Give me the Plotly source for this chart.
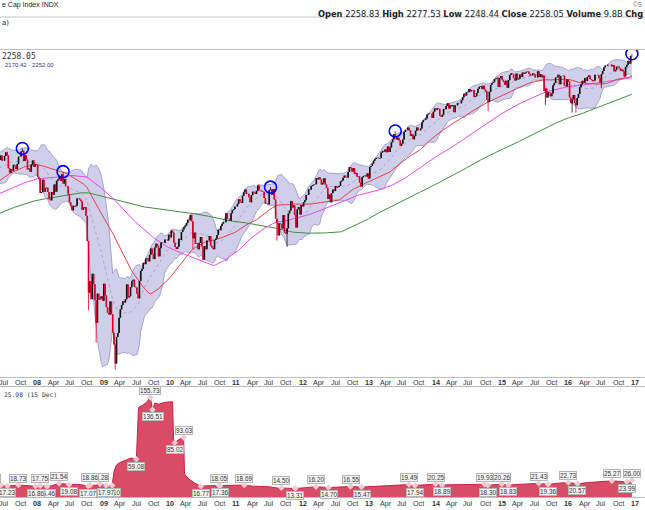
import pandas as pd
import numpy as np
import plotly.graph_objects as go

# weekly closes (Friday), Jul 2003 .. 16 Dec 2016
close_2003 = [985, 998, 994, 998, 980, 977, 990, 993, 1008, 1021, 1018, 1036, 996,
              1029, 1038, 1039, 1028, 1050, 1059, 1050, 1035, 1058, 1061, 1075, 1089, 1095]
close_2004 = [1108, 1122, 1139, 1141, 1131, 1142, 1145, 1144, 1145, 1156, 1120, 1110, 1109,
              1141, 1139, 1134, 1140, 1107, 1098, 1095, 1094, 1121, 1123, 1136, 1135, 1134,
              1125, 1112, 1101, 1086, 1102, 1064, 1064, 1099, 1107, 1113, 1123, 1128, 1110,
              1131, 1122, 1109, 1095, 1130, 1167, 1184, 1171, 1182, 1191, 1189, 1195, 1210, 1212]
close_2005 = [1186, 1184, 1168, 1171, 1203, 1206, 1201, 1211, 1222, 1200, 1190, 1172,
              1173, 1181, 1142, 1152, 1157, 1172, 1154, 1190, 1198, 1197, 1201, 1217, 1191,
              1195, 1212, 1228, 1227, 1234, 1226, 1237, 1220, 1205, 1218, 1241, 1237, 1215, 1229,
              1196, 1187, 1179, 1199, 1220, 1234, 1248, 1268, 1265, 1259, 1267, 1259, 1248]
close_2006 = [1285, 1287, 1261, 1284, 1264, 1267, 1287, 1289, 1287, 1281, 1307, 1302, 1295,
              1295, 1289, 1311, 1310, 1325, 1291, 1267, 1280, 1288, 1252, 1251, 1245, 1270,
              1265, 1237, 1240, 1278, 1280, 1266, 1302, 1296, 1311, 1299, 1321, 1314, 1336,
              1350, 1366, 1368, 1377, 1364, 1380, 1401, 1400, 1397, 1409, 1427, 1410, 1418]
close_2007 = [1409, 1430, 1431, 1423, 1449, 1438, 1456, 1451, 1387, 1402, 1387, 1437, 1421,
              1444, 1453, 1484, 1495, 1505, 1505, 1522, 1516, 1537, 1507, 1533, 1503, 1503,
              1531, 1553, 1534, 1459, 1434, 1454, 1445, 1479, 1474, 1454, 1484, 1526, 1527,
              1557, 1562, 1501, 1535, 1509, 1453, 1458, 1440, 1481, 1504, 1468, 1484, 1478]
close_2008 = [1411, 1401, 1325, 1330, 1396, 1332, 1350, 1353, 1331, 1294, 1288, 1330, 1316,
              1370, 1332, 1390, 1398, 1414, 1388, 1426, 1375, 1400, 1361, 1361, 1318, 1278,
              1262, 1239, 1261, 1257, 1261, 1297, 1298, 1292, 1283, 1242, 1252, 1255, 1213,
              1099, 899, 940, 877, 968, 930, 873, 800, 896, 876, 879, 887, 872]
close_2009 = [931, 890, 850, 832, 826, 869, 827, 770, 735, 683, 757, 769, 816,
              843, 857, 870, 866, 877, 929, 883, 887, 919, 940, 946, 921, 918,
              896, 880, 941, 979, 987, 1010, 1005, 1027, 1029, 1016, 1042, 1068, 1044,
              1025, 1072, 1088, 1080, 1036, 1069, 1093, 1091, 1091, 1106, 1106, 1102, 1127]
close_2010 = [1115, 1145, 1136, 1092, 1074, 1066, 1075, 1109, 1104, 1139, 1150, 1160, 1167,
              1179, 1194, 1192, 1217, 1187, 1111, 1136, 1087, 1089, 1065, 1092, 1117, 1076,
              1022, 1078, 1065, 1102, 1102, 1121, 1079, 1071, 1065, 1104, 1110, 1126, 1149,
              1147, 1166, 1176, 1183, 1183, 1225, 1200, 1199, 1190, 1225, 1240, 1244, 1257, 1258]
close_2011 = [1271, 1293, 1283, 1276, 1311, 1329, 1343, 1320, 1321, 1304, 1279, 1314,
              1332, 1329, 1320, 1337, 1364, 1340, 1338, 1333, 1331, 1300, 1271, 1272, 1268,
              1340, 1344, 1316, 1345, 1292, 1199, 1179, 1124, 1177, 1174, 1154, 1216, 1136, 1131,
              1155, 1224, 1238, 1285, 1253, 1263, 1216, 1159, 1244, 1255, 1219, 1265, 1258]
close_2012 = [1278, 1289, 1315, 1316, 1345, 1343, 1361, 1366, 1370, 1371, 1404, 1397, 1408,
              1398, 1370, 1379, 1403, 1369, 1353, 1295, 1318, 1278, 1325, 1343, 1335, 1362,
              1354, 1357, 1363, 1386, 1391, 1406, 1418, 1411, 1407, 1438, 1466, 1460, 1441,
              1460, 1428, 1433, 1412, 1414, 1380, 1359, 1409, 1416, 1418, 1413, 1430, 1402]
close_2013 = [1466, 1472, 1486, 1503, 1513, 1518, 1520, 1516, 1518, 1551, 1561, 1556, 1569,
              1553, 1588, 1555, 1582, 1614, 1633, 1667, 1650, 1631, 1643, 1626, 1593, 1606,
              1632, 1680, 1692, 1691, 1709, 1691, 1655, 1664, 1633, 1655, 1688, 1710, 1692,
              1691, 1703, 1745, 1759, 1762, 1771, 1798, 1804, 1806, 1805, 1775, 1818, 1841]
close_2014 = [1831, 1842, 1838, 1790, 1783, 1797, 1838, 1836, 1859, 1878, 1841, 1866, 1857,
              1865, 1815, 1864, 1863, 1881, 1878, 1878, 1900, 1924, 1950, 1937, 1963, 1961,
              1985, 1968, 1978, 1978, 1925, 1931, 1955, 1988, 2003, 2008, 1985, 2011, 1982,
              1968, 1906, 1887, 1965, 2018, 2032, 2039, 2063, 2068, 2075, 2002, 2071, 2089]
close_2015 = [2058, 2044, 2019, 2051, 1995, 2055, 2097, 2110, 2105, 2071, 2053, 2108, 2061,
              2067, 2102, 2081, 2117, 2108, 2116, 2123, 2126, 2107, 2092, 2094, 2110, 2102,
              2077, 2077, 2127, 2080, 2104, 2078, 2092, 1971, 1989, 1921, 1961, 1958, 1931,
              1951, 2015, 2033, 2075, 2079, 2099, 2023, 2089, 2090, 2092, 2012, 2006, 2061]
close_2016 = [2044, 1922, 1880, 1907, 1940, 1880, 1865, 1918, 1948, 2000, 2022, 2050, 2035,
              2073, 2048, 2081, 2092, 2065, 2058, 2047, 2053, 2099, 2099, 2096, 2071, 2037,
              2103, 2130, 2162, 2175, 2174, 2183, 2184, 2184, 2169, 2180, 2128, 2139, 2165, 2168,
              2153, 2133, 2141, 2126, 2085, 2164, 2182, 2214, 2192, 2259.53, 2258.05]

# intraweek extremes that stick out of the bodies
wick_low_dates = ["2008-10-10", "2008-11-21", "2009-03-06", "2010-05-07", "2011-08-12",
                  "2011-10-07", "2014-10-17", "2015-08-28", "2016-01-22", "2016-02-12",
                  "2016-07-01", "2016-12-16"]
wick_lows = [839.8, 741.0, 666.8, 1065.8, 1101.5, 1074.8, 1820.7, 1867.0, 1812.3, 1810.1,
             1991.7, 2248.44]
wick_high_dates = ["2007-07-20", "2007-10-12", "2008-05-23", "2011-05-06", "2011-07-08",
                   "2013-05-24", "2016-12-16"]
wick_highs = [1555.9, 1576.1, 1440.2, 1370.6, 1356.5, 1687.2, 2277.53]

# blue circled highs
circle_dates = ["2007-10-12", "2008-05-23", "2011-07-08", "2013-05-24", "2016-12-16"]
circle_values = [1576, 1440, 1356, 1687, 2277]

# P/E panel
pe_dates = ["2007-06-01", "2007-06-15", "2007-07-22", "2007-08-15", "2007-09-20", "2007-10-20",
            "2007-11-20", "2007-12-24", "2008-01-18", "2008-02-25", "2008-03-20", "2008-04-10",
            "2008-05-01", "2008-06-01", "2008-06-25", "2008-08-01", "2008-09-01", "2008-10-08",
            "2008-10-20", "2008-11-20", "2008-12-12", "2009-01-15", "2009-02-17", "2009-02-27",
            "2009-03-13", "2009-04-01", "2009-05-01", "2009-06-01", "2009-06-30", "2009-07-12",
            "2009-08-01", "2009-08-25", "2009-09-15", "2009-09-27", "2009-10-10", "2009-11-01",
            "2009-12-01", "2010-01-15", "2010-01-22", "2010-01-27", "2010-02-20", "2010-03-17",
            "2010-03-22", "2010-04-15", "2010-05-15", "2010-06-20", "2010-07-20", "2010-08-20",
            "2010-09-27", "2010-10-04", "2010-11-15", "2010-12-20", "2011-02-14", "2011-04-01",
            "2011-05-15", "2011-07-01", "2011-08-15", "2011-09-06", "2011-10-01", "2011-11-21",
            "2012-01-15", "2012-03-14", "2012-05-22", "2012-07-15", "2012-09-20", "2012-11-20",
            "2013-01-20", "2013-03-20", "2013-05-20", "2013-08-08", "2013-09-09", "2013-11-15",
            "2014-01-01", "2014-02-06", "2014-04-15", "2014-07-01", "2014-09-28", "2014-10-15",
            "2014-12-31", "2015-02-06", "2015-04-15", "2015-06-10", "2015-07-23", "2015-09-12",
            "2015-11-01", "2016-01-01", "2016-02-20", "2016-04-15", "2016-06-20", "2016-08-28",
            "2016-10-01", "2016-11-18", "2016-12-16"]
pe_values = [18.3, 18.35, 17.23, 17.9, 18.73, 18.2,
             17.6, 16.86, 17.75, 16.46, 17.5, 19.5,
             21.54, 20.5, 19.08, 19.8, 19.2, 17.07,
             18.86, 18.3, 20.28, 17.97, 18.1, 40,
             50, 54, 57, 61, 59.08, 140,
             143, 148, 155.73, 136.51, 147, 145,
             148, 149, 80, 85.02, 90, 93.03,
             36, 28, 22, 16.77, 17.5, 17.6,
             18.05, 17.36, 17.8, 18.1, 18.69, 17.0,
             16.5, 16.0, 14.0, 14.5, 13.8, 13.31,
             14.5, 16.2, 14.7, 15.6, 16.55, 15.47,
             16.6, 17.6, 18.5, 19.49, 17.94, 19.3,
             20.25, 18.89, 19.2, 19.6, 19.93, 18.3,
             20.26, 18.83, 20.2, 20.8, 21.43, 19.36,
             21.5, 22.73, 20.57, 22.5, 23.8, 25.27,
             24.6, 23.99, 26.0]
# labelled turning points (1 = peak, -1 = trough); earlier ones sit on top
pe_label_dates = ["2007-06-15", "2007-07-22", "2007-09-20", "2007-12-24", "2008-01-18",
                  "2008-02-25", "2008-05-01", "2008-06-25", "2008-10-08", "2008-10-20",
                  "2008-12-12", "2009-01-15", "2009-02-17", "2009-06-30", "2009-09-15",
                  "2009-09-27", "2010-01-27", "2010-03-17", "2010-06-20", "2010-09-27",
                  "2010-10-04", "2011-02-14", "2011-09-06", "2011-11-21", "2012-03-14",
                  "2012-05-22", "2012-09-20", "2012-11-20", "2013-08-08", "2013-09-09",
                  "2014-01-01", "2014-02-06", "2014-09-28", "2014-10-15", "2014-12-31",
                  "2015-02-06", "2015-07-23", "2015-09-12", "2016-01-01", "2016-02-20",
                  "2016-08-28", "2016-11-18", "2016-12-16"]
pe_label_values = [18.35, 17.23, 18.73, 16.86, 17.75, 16.46, 21.54, 19.08, 17.07, 18.86,
                   20.28, 17.97, 18.10, 59.08, 155.73, 136.51, 85.02, 93.03, 16.77, 18.05,
                   17.36, 18.69, 14.50, 13.31, 16.20, 14.70, 16.55, 15.47, 19.49, 17.94,
                   20.25, 18.89, 19.93, 18.30, 20.26, 18.83, 21.43, 19.36, 22.73, 20.57,
                   25.27, 23.99, 26.00]
pe_label_kind = [1, -1, 1, -1, 1, -1, 1, -1, -1, 1, 1, -1, -1, -1, 1, -1, -1, 1, -1, 1,
                 -1, 1, 1, -1, 1, -1, 1, -1, 1, -1, 1, -1, 1, -1, 1, -1, 1, -1, 1, -1,
                 1, -1, 1]

month_ticks = ["2007-07-01", "2007-10-01"] + [
    f"{y}-{m:02d}-01" for y in range(2008, 2018) for m in (1, 4, 7, 10)]
month_ticks = [t for t in month_ticks if t <= "2017-01-01"]
tick_text = []
for t in month_ticks:
    y, m = int(t[:4]), int(t[5:7])
    tick_text.append(f"<b>{y % 100:02d}</b>" if m == 1 else {4: "Apr", 7: "Jul", 10: "Oct"}[m])

closes = (close_2003 + close_2004 + close_2005 + close_2006 + close_2007 + close_2008
          + close_2009 + close_2010 + close_2011 + close_2012 + close_2013 + close_2014
          + close_2015 + close_2016)
dates = pd.date_range(end="2016-12-16", periods=len(closes), freq="W-FRI")
df = pd.DataFrame({"close": closes}, index=dates)
df["open"] = df["close"].shift(1).fillna(df["close"])
df.loc[pd.Timestamp("2016-12-16"), "open"] = 2258.83
df["high"] = df[["open", "close"]].max(axis=1)
df["low"] = df[["open", "close"]].min(axis=1)
for d, val in zip(wick_low_dates, wick_lows):
    df.loc[pd.Timestamp(d), "low"] = val
for d, val in zip(wick_high_dates, wick_highs):
    df.loc[pd.Timestamp(d), "high"] = val

df["mid"] = df["close"].rolling(20).mean()
sd = df["close"].rolling(20).std(ddof=0)
df["upper"] = df["mid"] + 2 * sd
df["lower"] = df["mid"] - 2 * sd
df["ma50"] = df["close"].rolling(50).mean()
df["ma100"] = df["close"].rolling(100).mean()
df["ma200"] = df["close"].rolling(200).mean()
v = df[df.index >= "2006-12-01"]

H = 510
def py(pix):
    return 1 - pix / H

def segments(rows, lo_col, hi_col):
    xs, ys = [], []
    for d, r in rows.iterrows():
        xs += [d, d, None]
        ys += [r[lo_col], r[hi_col], None]
    return xs, ys

fig = go.Figure()
fig.add_trace(go.Scatter(x=v.index, y=v["upper"], mode="lines",
                         line=dict(color="#a3a3cf", width=1), hoverinfo="skip"))
fig.add_trace(go.Scatter(x=v.index, y=v["lower"], mode="lines", fill="tonexty",
                         fillcolor="#cfcfe9", line=dict(color="#a3a3cf", width=1), hoverinfo="skip"))
fig.add_trace(go.Scatter(x=v.index, y=v["mid"], mode="lines",
                         line=dict(color="#a6a6c8", width=1, dash="dot")))
fig.add_trace(go.Scatter(x=v.index, y=v["ma200"], mode="lines", line=dict(color="#3f8f3f", width=1)))
fig.add_trace(go.Scatter(x=v.index, y=v["ma100"], mode="lines", line=dict(color="#ee44ee", width=1)))
fig.add_trace(go.Scatter(x=v.index, y=v["ma50"], mode="lines", line=dict(color="#e0404f", width=1)))

# candles: wick + body segments, black up weeks, red down weeks
v2 = v.assign(bot=v[["open", "close"]].min(axis=1), top=v[["open", "close"]].max(axis=1))
for mask, col in ((v2["close"] >= v2["open"], "#111111"), (v2["close"] < v2["open"], "#d4002a")):
    p = v2[mask]
    wx, wy = segments(p, "low", "high")
    fig.add_trace(go.Scatter(x=wx, y=wy, mode="lines", line=dict(color=col, width=0.8)))
    bx, by = segments(p, "bot", "top")
    fig.add_trace(go.Scatter(x=bx, y=by, mode="lines", line=dict(color=col, width=1.6)))

fig.add_trace(go.Scatter(x=pd.to_datetime(circle_dates), y=circle_values, mode="markers",
                         marker=dict(symbol="circle-open", size=12, color="#0000ee",
                                     line=dict(width=1.6, color="#0000ee"))))

# P/E area
fig.add_trace(go.Scatter(x=pd.to_datetime(pe_dates), y=pe_values, mode="lines", fill="tozeroy",
                         fillcolor="#d84c66", line=dict(color="#c8234a", width=1),
                         xaxis="x2", yaxis="y2"))
fig.add_trace(go.Scatter(x=pd.to_datetime(pe_label_dates), y=pe_label_values, mode="markers",
                         marker=dict(symbol="diamond", size=5, color="#f3c9d2"),
                         xaxis="x2", yaxis="y2"))

annotations = []
for d, val, k in reversed(list(zip(pe_label_dates, pe_label_values, pe_label_kind))):
    annotations.append(dict(x=d, y=val, xref="x2", yref="y2", text=f"{val:.2f}", showarrow=False,
                            yshift=7 * k, xshift=-9 if d == "2007-06-15" else 0,
                            bgcolor="#f3f3f3", bordercolor="#b5b5b5", borderwidth=1, borderpad=0,
                            font=dict(size=6.4, color="#333333", family="Liberation Sans")))

# date labels under both panels
for t, s in zip(month_ticks, tick_text):
    for ypix in (382, 503):
        annotations.append(dict(x=t, y=py(ypix), xref="x", yref="paper", text=s, showarrow=False,
                                xanchor="center", yanchor="middle",
                                font=dict(size=7.2, family="Liberation Sans", color="#333333")))

txt = dict(family="DejaVu Sans", color="#222222")
annotations += [
    dict(x=0, y=py(5), xref="paper", yref="paper", xanchor="left", yanchor="middle",
         text="e Cap Index INDX", showarrow=False, font=dict(size=7, family="Liberation Sans", color="#222222")),
    dict(x=1, y=py(5), xref="paper", yref="paper", xanchor="right", yanchor="middle",
         text="©S", showarrow=False, font=dict(size=6.5, family="Liberation Sans", color="#777777")),
    dict(x=1, y=py(14), xref="paper", yref="paper", xanchor="right", yanchor="middle",
         text="<b>Open</b> 2258.83 <b>High</b> 2277.53 <b>Low</b> 2248.44 <b>Close</b> 2258.05 "
              "<b>Volume</b> 9.8B <b>Chg</b>",
         showarrow=False, font=dict(size=8.3, **txt)),
    dict(x=0, y=py(23), xref="paper", yref="paper", xanchor="left", yanchor="middle",
         text="a)", showarrow=False, font=dict(size=7, **txt)),
    dict(x=0, y=py(56), xref="paper", yref="paper", xanchor="left", yanchor="middle",
         text="2258.05", showarrow=False, font=dict(size=8, family="DejaVu Sans Mono", color="#333333")),
    dict(x=0.004, y=py(65), xref="paper", yref="paper", xanchor="left", yanchor="middle",
         text="2170.42 - 2252.00", showarrow=False, font=dict(size=6, family="Liberation Sans", color="#33339a")),
    dict(x=0.003, y=py(394), xref="paper", yref="paper", xanchor="left", yanchor="middle",
         text="25.98 (15 Dec)", showarrow=False, font=dict(size=6.3, family="DejaVu Sans Mono", color="#333333")),
]

xr = ["2007-06-11", "2017-02-26"]
axis_x = dict(type="date", range=xr, showticklabels=False, ticks="",
              showgrid=False, showline=True, mirror=True, linecolor="#bdbdbd", linewidth=1)

fig.update_layout(
    width=645, height=510, margin=dict(l=0, r=0, t=0, b=0),
    paper_bgcolor="white", plot_bgcolor="white", showlegend=False, hovermode=False,
    xaxis=dict(axis_x, domain=[0, 1], anchor="y"),
    yaxis=dict(type="log", range=[np.log10(648), np.log10(2311)], domain=[py(377), py(50)],
               showticklabels=False, showgrid=False, zeroline=False),
    xaxis2=dict(axis_x, domain=[0, 1], anchor="y2", matches="x"),
    yaxis2=dict(range=[0, 172], domain=[py(497), py(387)], showticklabels=False,
                showgrid=False, zeroline=False),
    annotations=annotations,
    shapes=[dict(type="line", xref="paper", yref="paper", x0=0, x1=1, y0=py(17), y1=py(17),
                 line=dict(color="#c4c4c4", width=1))],
)

fig.write_html("out.html", config={"displayModeBar": False},
               post_script="document.body.style.margin='0px';")
